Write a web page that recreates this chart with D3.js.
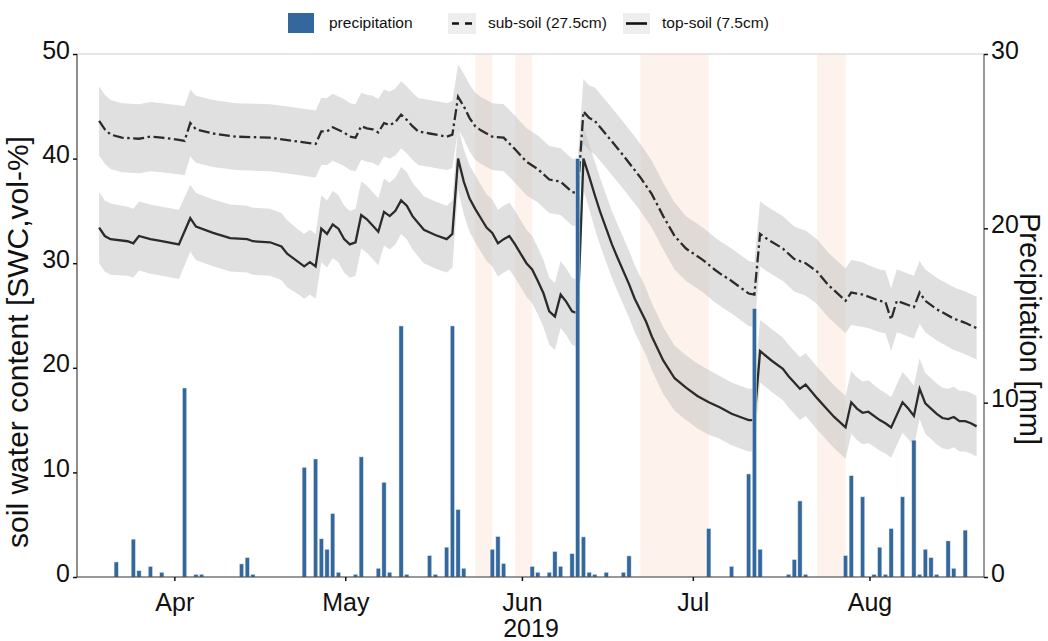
<!DOCTYPE html>
<html>
<head>
<meta charset="utf-8">
<title>Soil water content 2019</title>
<script src="https://cdn.jsdelivr.net/npm/d3@7"></script>
<style>
  body { margin: 0; background: #fff; }
  svg { font-family: "Liberation Sans", Arial, sans-serif; }
</style>
</head>
<body>
<script>

// daily precipitation [mm]
var precipDates = ["03-22","03-25","03-26","03-28","03-30","04-03","04-05","04-06","04-13","04-14",
  "04-15","04-24","04-26","04-27","04-28","04-29","04-30","05-03","05-04","05-07",
  "05-08","05-09","05-11","05-12","05-16","05-17","05-19","05-20","05-21","05-22",
  "05-27","05-28","05-29","06-03","06-04","06-06","06-07","06-08","06-10","06-11",
  "06-12","06-13","06-14","06-16","06-19","06-20","07-04","07-08","07-11","07-12",
  "07-13","07-18","07-19","07-20","07-21","07-28","07-29","07-31","08-02","08-03",
  "08-04","08-05","08-07","08-09","08-10","08-11","08-12","08-13","08-15","08-16",
  "08-18"];
var precipValues = [0.86,2.17,0.36,0.6,0.27,10.84,0.15,0.15,0.75,1.11,
  0.15,6.29,6.77,2.19,1.59,3.64,0.27,0.15,6.89,0.5,
  5.43,0.27,14.4,0.15,1.23,0.15,1.71,14.4,3.87,0.5,
  1.59,2.32,0.77,0.61,0.27,0.27,1.46,0.61,1.34,24.0,
  2.3,0.27,0.15,0.27,0.27,1.21,2.78,0.61,5.91,15.4,
  1.59,0.15,1.0,4.36,0.15,1.23,5.81,4.6,0.15,1.71,
  0.15,2.78,4.6,7.85,0.15,1.59,1.11,0.15,2.07,0.5,
  2.69];

// top-soil (7.5cm) mean SWC and half-width of the grey band
var topDates = ["03-19","03-20","03-21","03-24","03-25","03-26","03-28","03-30","04-02","04-04",
  "04-05","04-08","04-11","04-14","04-15","04-18","04-20","04-21","04-23","04-24",
  "04-25","04-26","04-27","04-28","04-29","04-30","05-01","05-02","05-03","05-04",
  "05-05","05-06","05-07","05-08","05-09","05-10","05-11","05-12","05-13","05-15",
  "05-17","05-19","05-20","05-21","05-22","05-23","05-24","05-25","05-26","05-27",
  "05-28","05-29","05-30","05-31","06-01","06-02","06-03","06-04","06-05","06-06",
  "06-07","06-08","06-09","06-10","06-11","06-12","06-13","06-14","06-15","06-16",
  "06-17","06-18","06-20","06-21","06-23","06-24","06-26","06-28","06-30","07-02",
  "07-04","07-06","07-08","07-10","07-11","07-12","07-13","07-15","07-17","07-18",
  "07-20","07-21","07-23","07-25","07-26","07-28","07-29","07-30","07-31","08-01",
  "08-03","08-04","08-05","08-06","08-07","08-08","08-09","08-10","08-11","08-12",
  "08-13","08-14","08-15","08-16","08-17","08-18","08-19","08-20"];
var topValues = [33.4,32.6,32.3,32.1,31.9,32.6,32.3,32.1,31.8,34.3,
  33.5,32.9,32.4,32.3,32.1,32.0,31.6,30.9,30.1,29.7,
  30.1,29.7,33.3,32.8,33.7,33.3,32.3,31.8,32.0,34.6,
  34.2,33.6,33.0,34.9,34.5,35.0,36.0,35.5,34.5,33.2,
  32.7,32.3,32.8,40.0,37.8,36.2,35.2,34.3,33.4,32.9,
  31.9,32.3,32.6,31.8,30.9,30.0,29.4,28.3,27.1,25.4,
  24.9,27.0,26.3,25.4,25.2,40.0,38.3,36.5,34.8,33.3,
  31.8,30.5,28.0,26.6,24.4,23.0,20.7,19.0,18.1,17.3,
  16.7,16.2,15.6,15.2,15.0,15.0,21.6,20.7,19.9,19.2,
  18.0,18.4,17.1,15.9,15.3,14.3,16.7,16.1,15.7,15.8,
  15.0,14.7,14.3,15.5,16.7,16.1,15.4,18.0,16.6,16.1,
  15.6,15.2,15.1,15.3,14.9,14.9,14.7,14.4];
var topSpread = [3.4,3.4,3.4,3.3,3.3,3.3,3.3,3.3,3.3,3.2,
  3.2,3.2,3.2,3.2,3.2,3.2,3.2,3.2,3.1,3.1,
  3.1,3.1,3.2,3.2,3.2,3.2,3.2,3.2,3.2,3.2,
  3.2,3.2,3.2,3.2,3.2,3.2,3.2,3.2,3.2,3.2,
  3.2,3.2,3.2,3.0,3.1,3.2,3.2,3.2,3.2,3.2,
  3.2,3.2,3.2,3.2,3.2,3.2,3.2,3.2,3.2,3.2,
  3.2,3.2,3.2,3.2,3.2,3.0,3.1,3.2,3.2,3.2,
  3.2,3.2,3.2,3.2,3.2,3.2,3.2,3.1,3.1,3.1,
  3.1,3.0,3.0,3.0,3.0,3.0,3.0,3.0,3.0,3.0,
  3.0,3.0,3.0,3.0,3.0,3.0,3.0,3.0,3.0,3.0,
  2.9,2.9,2.9,2.9,2.9,2.9,2.9,2.9,2.9,2.9,
  2.9,2.9,2.9,2.9,2.9,2.9,2.9,2.9];

// sub-soil (27.5cm)
var subDates = ["03-19","03-20","03-21","03-23","03-26","03-28","03-30","04-02","04-03","04-04",
  "04-05","04-08","04-12","04-18","04-22","04-26","04-27","04-28","04-29","05-01",
  "05-02","05-03","05-04","05-05","05-06","05-07","05-08","05-09","05-10","05-11",
  "05-12","05-13","05-14","05-16","05-18","05-19","05-20","05-21","05-22","05-23",
  "05-24","05-25","05-26","05-27","05-29","05-31","06-02","06-04","06-06","06-08",
  "06-10","06-11","06-12","06-13","06-14","06-16","06-19","06-22","06-24","06-26",
  "06-28","06-30","07-03","07-05","07-06","07-08","07-11","07-12","07-13","07-14",
  "07-17","07-19","07-21","07-22","07-23","07-25","07-28","07-29","07-30","07-31",
  "08-01","08-03","08-04","08-05","08-06","08-07","08-08","08-09","08-10","08-11",
  "08-13","08-14","08-16","08-18","08-20"];
var subValues = [43.6,42.8,42.3,42.0,41.9,42.1,42.0,41.8,41.7,43.4,
  42.8,42.4,42.1,42.0,41.7,41.4,42.6,42.6,43.0,42.5,
  42.1,42.0,43.1,42.9,42.8,42.5,43.4,43.2,43.5,44.2,
  43.7,43.1,42.6,42.4,42.2,42.1,42.3,45.9,45.0,43.9,
  43.1,42.7,42.4,42.1,42.0,40.9,39.7,39.0,38.0,37.8,
  36.8,36.7,44.5,43.9,43.6,42.3,40.3,38.2,36.6,34.5,
  32.6,31.4,30.3,29.4,29.0,28.3,27.1,27.0,32.8,32.4,
  31.4,30.4,30.0,29.6,29.2,27.9,26.4,27.2,27.1,27.0,
  26.8,26.4,26.3,24.6,26.4,26.2,26.0,25.8,27.2,26.4,
  25.6,25.3,24.7,24.3,23.8];
var subSpread = [3.3,3.3,3.3,3.3,3.3,3.3,3.3,3.3,3.3,3.2,
  3.2,3.2,3.2,3.2,3.2,3.2,3.2,3.2,3.2,3.2,
  3.2,3.2,3.2,3.2,3.2,3.2,3.2,3.2,3.2,3.2,
  3.2,3.2,3.2,3.2,3.2,3.2,3.2,3.1,3.1,3.2,
  3.2,3.2,3.2,3.2,3.2,3.2,3.2,3.2,3.2,3.2,
  3.2,3.2,3.1,3.1,3.2,3.2,3.2,3.2,3.2,3.2,
  3.2,3.1,3.1,3.1,3.1,3.1,3.1,3.1,3.1,3.1,
  3.1,3.1,3.1,3.1,3.1,3.1,3.1,3.1,3.1,3.1,
  3.0,3.0,3.0,3.0,3.0,3.0,3.0,3.0,3.0,3.0,
  3.0,3.0,3.0,3.0,3.0];

// periods shaded in light orange
var dryStart = ["05-24","05-31","06-22","07-23"];
var dryEnd   = ["05-27","06-03","07-04","07-28"];

// axis ticks
var monthTicks  = ["04-01","05-01","06-01","07-01","08-01"];
var monthLabels = ["Apr","May","Jun","Jul","Aug"];
var swcTicks    = [0,10,20,30,40,50];
var precipTicks = [0,10,20,30];

var parseDay = d3.timeParse("%Y-%m-%d");
function day(s) { return parseDay("2019-" + s); }

var W = 1048, H = 641;
var plot = {left: 77, right: 984, top: 54, bottom: 577};

var x = d3.scaleTime()
    .domain([new Date(2019, 2, 14, 22, 5), new Date(2019, 7, 21, 2, 24)])
    .range([plot.left, plot.right]);
var ySwc = d3.scaleLinear().domain([0, 50]).range([plot.bottom, plot.top]);
var yPre = d3.scaleLinear().domain([0, 30]).range([plot.bottom, plot.top]);

// daily samples sit a little before midnight on the time axis
var shiftMs = 0.2 * 864e5;
function px(d) { return x(new Date(d.getTime() - shiftMs)); }
var dayPx = x(day("04-02")) - x(day("04-01"));

var svg = d3.select("body").append("svg")
    .attr("width", W)
    .attr("height", H);

svg.append("defs").append("clipPath").attr("id", "clip")
  .append("rect")
    .attr("x", plot.left).attr("y", plot.top)
    .attr("width", plot.right - plot.left)
    .attr("height", plot.bottom - plot.top);

var g = svg.append("g").attr("clip-path", "url(#clip)");

// orange periods
g.selectAll(".dry")
    .data(dryStart.map(function(s, i) { return [day(s), day(dryEnd[i])]; }))
  .enter().append("rect")
    .attr("class", "dry")
    .attr("x", function(d) { return px(d[0]); })
    .attr("width", function(d) { return px(d[1]) - px(d[0]); })
    .attr("y", plot.top)
    .attr("height", plot.bottom - plot.top)
    .attr("fill", "#fde9dc")
    .attr("fill-opacity", 0.55);

function series(dates, values, spread) {
  return dates.map(function(s, i) {
    return {date: day(s), v: values[i], s: spread[i]};
  });
}
var topSoil = series(topDates, topValues, topSpread);
var subSoil = series(subDates, subValues, subSpread);

var band = d3.area()
    .x(function(d) { return px(d.date); })
    .y0(function(d) { return ySwc(d.v - d.s); })
    .y1(function(d) { return ySwc(d.v + d.s); });
var line = d3.line()
    .x(function(d) { return px(d.date); })
    .y(function(d) { return ySwc(d.v); });

[subSoil, topSoil].forEach(function(s) {
  g.append("path").datum(s)
    .attr("d", band)
    .attr("fill", "#c2c2c2")
    .attr("fill-opacity", 0.5);
});

g.append("path").datum(subSoil)
    .attr("d", line)
    .attr("fill", "none")
    .attr("stroke", "#2b2b2b")
    .attr("stroke-width", 2.3)
    .attr("stroke-dasharray", "11,3.5,2.5,3.5");

g.append("path").datum(topSoil)
    .attr("d", line)
    .attr("fill", "none")
    .attr("stroke", "#2b2b2b")
    .attr("stroke-width", 2.3);

// precipitation bars
var bw = dayPx * 0.74;
g.selectAll(".bar")
    .data(precipDates.map(function(s, i) { return {date: day(s), v: precipValues[i]}; }))
  .enter().append("rect")
    .attr("class", "bar")
    .attr("x", function(d) { return px(d.date) - bw / 2; })
    .attr("width", bw)
    .attr("y", function(d) { return yPre(d.v); })
    .attr("height", function(d) { return plot.bottom - yPre(d.v); })
    .attr("fill", "#34689c")
    .attr("stroke", "#dce5ef")
    .attr("stroke-width", 0.5);

// spines
svg.append("line").attr("x1", plot.left).attr("x2", plot.right)
    .attr("y1", plot.top).attr("y2", plot.top)
    .attr("stroke", "#cfcfcf").attr("stroke-width", 1);
svg.append("line").attr("x1", plot.left).attr("x2", plot.right)
    .attr("y1", plot.bottom).attr("y2", plot.bottom)
    .attr("stroke", "#333").attr("stroke-width", 1.2);
svg.append("line").attr("x1", plot.left).attr("x2", plot.left)
    .attr("y1", plot.top).attr("y2", plot.bottom)
    .attr("stroke", "#444").attr("stroke-width", 1.2);
svg.append("line").attr("x1", plot.right).attr("x2", plot.right)
    .attr("y1", plot.top).attr("y2", plot.bottom)
    .attr("stroke", "#555").attr("stroke-width", 1.2);

// axes
var xAxis = svg.append("g")
    .attr("transform", "translate(0," + plot.bottom + ")")
    .call(d3.axisBottom(x)
      .tickValues(monthTicks.map(day))
      .tickFormat(function(d, i) { return monthLabels[i]; })
      .tickSize(4).tickPadding(12));

var yAxisL = svg.append("g")
    .attr("transform", "translate(" + plot.left + ",0)")
    .call(d3.axisLeft(ySwc).tickValues(swcTicks).tickSize(4).tickPadding(3));

var yAxisR = svg.append("g")
    .attr("transform", "translate(" + plot.right + ",0)")
    .call(d3.axisRight(yPre).tickValues(precipTicks).tickSize(4).tickPadding(3));

[xAxis, yAxisL, yAxisR].forEach(function(a) {
  a.select(".domain").remove();
  a.selectAll("text")
      .style("font-family", "'Liberation Sans', Arial, sans-serif")
      .style("font-size", "25px")
      .attr("fill", "#111");
  a.selectAll(".tick line").attr("stroke", "#111").attr("stroke-width", 1.5);
});
// value labels sit a little above their ticks, as in the source figure
[yAxisL, yAxisR].forEach(function(a) {
  a.selectAll(".tick text").attr("y", -4);
});

// axis titles
svg.append("text")
    .attr("transform", "translate(" + 531 + "," + 637 + ")")
    .attr("text-anchor", "middle")
    .style("font-size", "25px")
    .attr("fill", "#111")
    .text("2019");

svg.append("text")
    .attr("transform", "translate(28,342) rotate(-90)")
    .attr("text-anchor", "middle")
    .style("font-size", "30px")
    .attr("fill", "#111")
    .text("soil water content [SWC,vol-%]");

svg.append("text")
    .attr("transform", "translate(1020,329) rotate(90)")
    .attr("text-anchor", "middle")
    .style("font-size", "29px")
    .attr("fill", "#111")
    .text("Precipitation [mm]");

// legend
var legend = svg.append("g").style("font-size", "15.5px");
legend.append("rect").attr("x", 288).attr("y", 13).attr("width", 26).attr("height", 20)
    .attr("fill", "#34689c");
legend.append("text").attr("x", 329).attr("y", 28).attr("fill", "#111").text("precipitation");

legend.append("rect").attr("x", 448).attr("y", 13).attr("width", 28).attr("height", 21)
    .attr("fill", "#eeeeee");
legend.append("line").attr("x1", 452).attr("x2", 473).attr("y1", 23.5).attr("y2", 23.5)
    .attr("stroke", "#111").attr("stroke-width", 2.6).attr("stroke-dasharray", "7,6");
legend.append("text").attr("x", 488).attr("y", 28).attr("fill", "#111").text("sub-soil (27.5cm)");

legend.append("rect").attr("x", 623).attr("y", 13).attr("width", 27).attr("height", 21)
    .attr("fill", "#eeeeee");
legend.append("line").attr("x1", 626).attr("x2", 647).attr("y1", 23.5).attr("y2", 23.5)
    .attr("stroke", "#111").attr("stroke-width", 2.6);
legend.append("text").attr("x", 662).attr("y", 28).attr("fill", "#111").text("top-soil (7.5cm)");

</script>
</body>
</html>
